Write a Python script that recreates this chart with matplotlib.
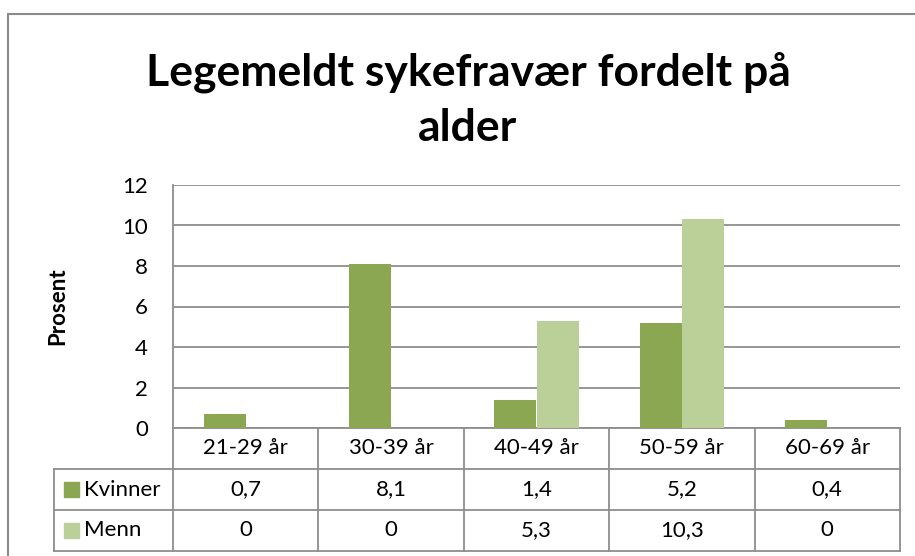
import matplotlib.pyplot as plt
from matplotlib.patches import Rectangle
import numpy as np

# Data
categories = ['21-29 år', '30-39 år', '40-49 år', '50-59 år', '60-69 år']
kvinner = [0.7, 8.1, 1.4, 5.2, 0.4]
menn = [0, 0, 5.3, 10.3, 0]
kvinner_lbl = ['0,7', '8,1', '1,4', '5,2', '0,4']
menn_lbl = ['0', '0', '5,3', '10,3', '0']
series = ['Kvinner', 'Menn']
colors = ['#8BA752', '#BBD098']
yticks = [0, 2, 4, 6, 8, 10, 12]

plt.rcParams['font.family'] = ['Lato', 'DejaVu Sans']
W, H = 915, 556
fig = plt.figure(figsize=(W / 100, H / 100), dpi=100)

# plot area in pixels
left, right, top, bottom = 173, 900, 185, 428
ax = fig.add_axes([left / W, 1 - bottom / H, (right - left) / W, (bottom - top) / H])

x = np.arange(len(categories))
bw = 0.289
ax.bar(x - bw / 2, kvinner, bw, color=colors[0], zorder=3)
ax.bar(x + bw / 2, menn, bw, color=colors[1], zorder=3)

ax.set_xlim(-0.5, len(categories) - 0.5)
ax.set_ylim(0, 12)
ax.set_yticks(yticks)
ax.set_xticks([])
ax.grid(axis='y', color='#8E8E8E', lw=1.3, zorder=0)
for s in ['top', 'right', 'bottom']:
    ax.spines[s].set_visible(False)
ax.spines['left'].set_color('#8E8E8E')
ax.spines['left'].set_linewidth(1.3)
ax.tick_params(axis='y', length=0, pad=18, labelsize=16)

# data table below the axes (axes fraction coords)
rowh = 41 / (bottom - top)
ncat = len(categories)
leg_x = (54 - left) / (right - left)
lc = '#8E8E8E'
lw = 1.3
kw = dict(transform=ax.transAxes, clip_on=False, color=lc, lw=lw)
# horizontal lines
ax.plot([0, 1], [0, 0], **kw)
for r in range(1, 4):
    ax.plot([leg_x, 1], [-r * rowh, -r * rowh], **kw)
# vertical lines
for i in range(ncat + 1):
    ax.plot([i / ncat, i / ncat], [0, -3 * rowh], **kw)
ax.plot([leg_x, leg_x], [-rowh, -3 * rowh], **kw)

tkw = dict(transform=ax.transAxes, ha='center', va='center', fontsize=16)
for i, c in enumerate(categories):
    cx = (i + 0.5) / ncat
    ax.text(cx, -0.5 * rowh, c, **tkw)
    ax.text(cx, -1.5 * rowh, kvinner_lbl[i], **tkw)
    ax.text(cx, -2.5 * rowh, menn_lbl[i], **tkw)

# legend keys in first column
sq = 15 / (right - left)
sqh = 15 / (bottom - top)
for r, (name, col) in enumerate(zip(series, colors)):
    yc = -(1.5 + r) * rowh
    ax.add_patch(Rectangle(((64 - left) / (right - left), yc - sqh / 2), sq, sqh,
                           transform=ax.transAxes, clip_on=False, color=col))
    ax.text((84 - left) / (right - left), yc, name, transform=ax.transAxes,
            ha='left', va='center', fontsize=16)

# titles
fig.text(468 / W, 1 - 100 / H, 'Legemeldt sykefravær fordelt på\nalder',
         ha='center', va='center', fontsize=32, fontweight='bold', linespacing=1.45)
fig.text(58 / W, 1 - 306 / H, 'Prosent', rotation=90, ha='center', va='center',
         fontsize=16, fontweight='bold')

# outer chart border (cropped on right and bottom)
fig.add_artist(Rectangle((8 / W, -0.05), 1.2, 1 - 14 / H + 0.05, transform=fig.transFigure,
                         fill=False, edgecolor='#8A8A8A', lw=1.5))

fig.savefig('out.png', dpi=100)
